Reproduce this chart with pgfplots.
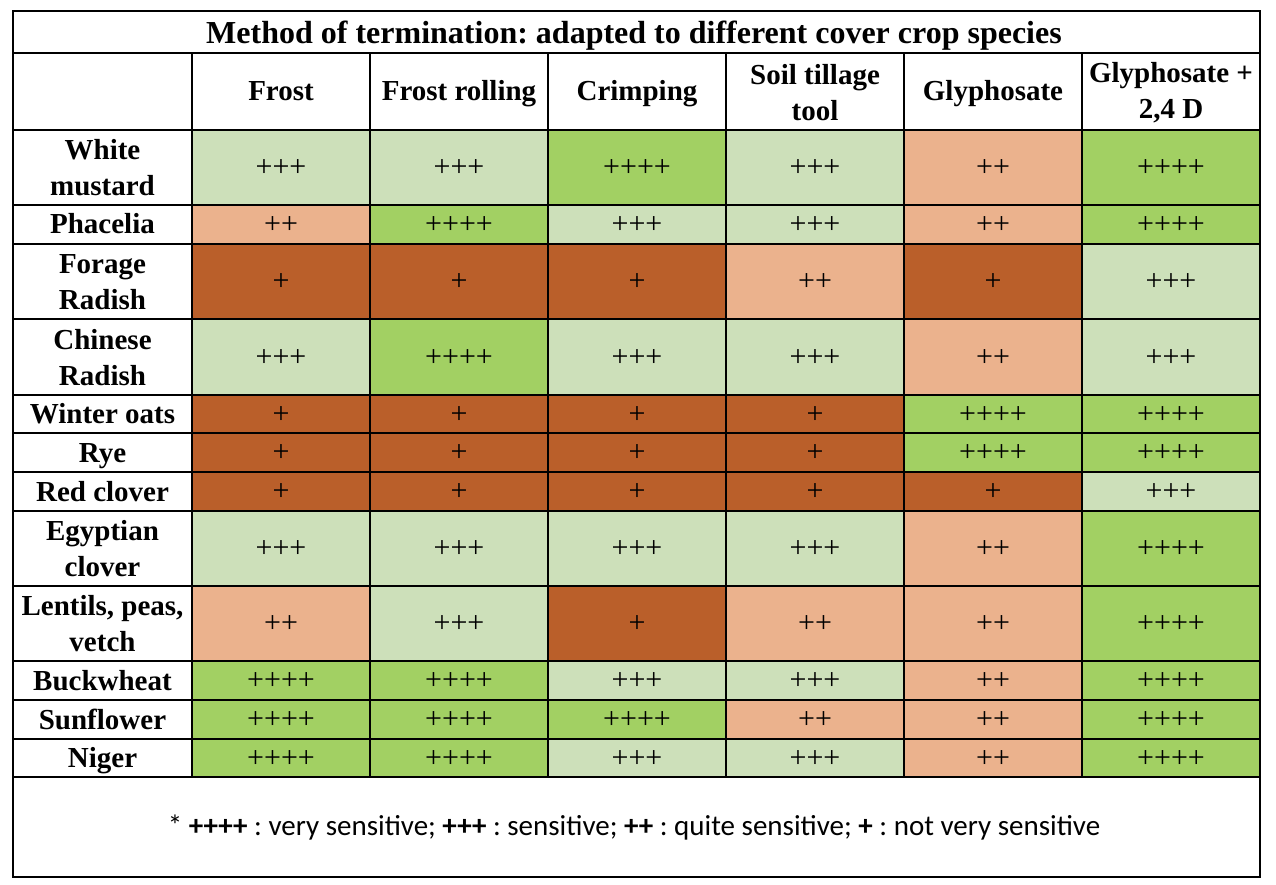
\documentclass[border=0pt]{standalone}
\usepackage{pgfplots}
\pgfplotsset{compat=1.18}
\usepackage{fontspec}
\setmainfont{Liberation Serif}
\newfontfamily\calib{Carlito}
\definecolor{L1}{HTML}{BA5F2A}
\definecolor{L2}{HTML}{EBB28D}
\definecolor{L3}{HTML}{CDE0BA}
\definecolor{L4}{HTML}{A2D063}
\newcommand\Pl[1]{\ifcase#1\or+\or++\or+++\or++++\fi}
\pgfplotsset{
  gridl/.style={black, line width=2.6pt, line cap=rect, line join=miter, mark=none},
  plustext/.style={draw=none, mark=none, nodes near coords, point meta=explicit symbolic,
    nodes near coords align={center},
    every node near coord/.append style={font=\fontsize{30}{30}\selectfont, black, inner sep=0pt, yshift=-1pt}}
}
\tikzset{lab/.style={font=\frenchspacing\bfseries\fontsize{29}{36}\selectfont, align=center, black},
  lab1/.style={lab, anchor=base}}
% top, bottom, middle, levels for: Frost, Frost rolling, Crimping, Soil tillage tool, Glyphosate, Glyphosate + 2,4 D
\newcommand\Row[9]{%
\addplot[draw=none,fill=L#4] coordinates {(192,#1) (370,#1) (370,#2) (192,#2)};
\addplot[draw=none,fill=L#5] coordinates {(370,#1) (548,#1) (548,#2) (370,#2)};
\addplot[draw=none,fill=L#6] coordinates {(548,#1) (726,#1) (726,#2) (548,#2)};
\addplot[draw=none,fill=L#7] coordinates {(726,#1) (904,#1) (904,#2) (726,#2)};
\addplot[draw=none,fill=L#8] coordinates {(904,#1) (1082,#1) (1082,#2) (904,#2)};
\addplot[draw=none,fill=L#9] coordinates {(1082,#1) (1260,#1) (1260,#2) (1082,#2)};
\addplot[plustext] coordinates {(281,#3) [\Pl{#4}] (459,#3) [\Pl{#5}] (637,#3) [\Pl{#6}] (815,#3) [\Pl{#7}] (993,#3) [\Pl{#8}] (1171,#3) [\Pl{#9}]};
}
\newcommand\HL[1]{\addplot[gridl] coordinates {(13,#1) (1260,#1)};}
\newcommand\VL[1]{\addplot[gridl] coordinates {(#1,53) (#1,777)};}
\begin{document}
\frenchspacing
\begin{tikzpicture}
\begin{axis}[scale only axis, width=1276pt, height=885pt,
  xmin=0, xmax=1276, ymin=0, ymax=885, y dir=reverse, hide axis, clip=false]
\addplot[draw=none, mark=none] coordinates {(0,0) (1276,885)};
\Row{130}{205}{167.5}{3}{3}{4}{3}{2}{4}
\Row{205}{244}{224.5}{2}{4}{3}{3}{2}{4}
\Row{244}{319}{281.5}{1}{1}{1}{2}{1}{3}
\Row{319}{395}{357}{3}{4}{3}{3}{2}{3}
\Row{395}{433}{414}{1}{1}{1}{1}{4}{4}
\Row{433}{472}{452.5}{1}{1}{1}{1}{4}{4}
\Row{472}{511}{491.5}{1}{1}{1}{1}{1}{3}
\Row{511}{586}{548.5}{3}{3}{3}{3}{2}{4}
\Row{586}{661}{623.5}{2}{3}{1}{2}{2}{4}
\Row{661}{700}{680.5}{4}{4}{3}{3}{2}{4}
\Row{700}{739}{719.5}{4}{4}{4}{2}{2}{4}
\Row{739}{777}{758}{4}{4}{3}{3}{2}{4}
\HL{53}\HL{130}\HL{205}\HL{244}\HL{319}\HL{395}\HL{433}\HL{472}\HL{511}\HL{586}\HL{661}\HL{700}\HL{739}\HL{777}
\VL{192}\VL{370}\VL{548}\VL{726}\VL{904}\VL{1082}
\addplot[gridl] coordinates {(13,11) (1260,11) (1260,877) (13,877) (13,11)};
\node[lab1, font=\frenchspacing\bfseries\fontsize{32}{36}\selectfont] at (axis cs:634,43.5) {Method of termination: adapted to different cover crop species};
\node[lab1] at (axis cs:281,101) {Frost};
\node[lab1] at (axis cs:459,101) {Frost rolling};
\node[lab1] at (axis cs:637,101) {Crimping};
\node[lab] at (axis cs:815,92.5) {Soil tillage\\tool};
\node[lab1] at (axis cs:993,101) {Glyphosate};
\node[lab] at (axis cs:1171,92.5) {Glyphosate +\\2,4 D};
\node[lab] at (axis cs:102.5,168) {White\\mustard};
\node[lab1] at (axis cs:102.5,233.5) {Phacelia};
\node[lab] at (axis cs:102.5,282) {Forage\\Radish};
\node[lab] at (axis cs:102.5,357.5) {Chinese\\Radish};
\node[lab1] at (axis cs:102.5,423.5) {Winter oats};
\node[lab1] at (axis cs:102.5,462) {Rye};
\node[lab1] at (axis cs:102.5,501) {Red clover};
\node[lab] at (axis cs:102.5,549) {Egyptian\\clover};
\node[lab] at (axis cs:102.5,624) {Lentils, peas,\\vetch};
\node[lab1] at (axis cs:102.5,690) {Buckwheat};
\node[lab1] at (axis cs:102.5,729) {Sunflower};
\node[lab1] at (axis cs:102.5,767.5) {Niger};
\node[font=\frenchspacing\calib\fontsize{29}{35}\selectfont, black, anchor=base] at (axis cs:634,835) {* \textbf{++++} : very sensitive; \textbf{+++} : sensitive; \textbf{++} : quite sensitive; \textbf{+} : not very sensitive};
\end{axis}
\end{tikzpicture}
\end{document}
